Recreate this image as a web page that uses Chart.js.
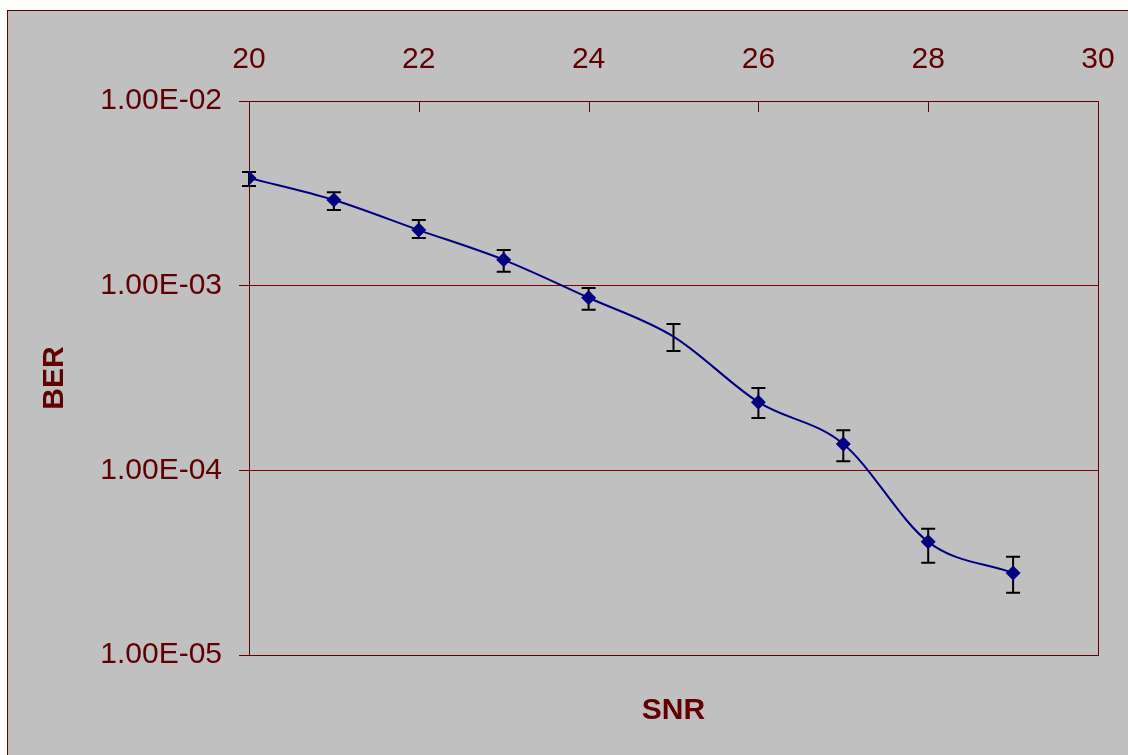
<!DOCTYPE html>
<html>
<head>
<meta charset="utf-8">
<script src="https://cdn.jsdelivr.net/npm/chart.js@4.4.1/dist/chart.umd.min.js"></script>
<style>
  html, body { margin: 0; padding: 0; background: #fff; }
  body { width: 1128px; height: 755px; position: relative; overflow: hidden; }
  #frame {
    position: absolute; left: 7px; top: 10px; width: 1200px; height: 800px;
    background: #c0c0c0; border: 1px solid #600000;
  }
  #wrap { position: absolute; left: 0; top: 0; width: 1128px; height: 755px; }
</style>
</head>
<body>
<div id="frame"></div>
<div id="wrap"><canvas id="chart"></canvas></div>
<script>
// SNR values and measured BER with error bar limits
const snr = [20, 21, 22, 23, 24, 25, 26, 27, 28, 29];
const ber = [3.83e-3, 2.91e-3, 2.00e-3, 1.38e-3, 8.6e-4, 5.3e-4, 2.34e-4, 1.39e-4, 4.1e-5, 2.78e-5];
const berHigh = [4.13e-3, 3.21e-3, 2.27e-3, 1.56e-3, 9.7e-4, 6.2e-4, 2.79e-4, 1.65e-4, 4.82e-5, 3.40e-5];
const berLow = [3.47e-3, 2.57e-3, 1.81e-3, 1.19e-3, 7.4e-4, 4.43e-4, 1.92e-4, 1.12e-4, 3.16e-5, 2.17e-5];

const xTicks = [20, 22, 24, 26, 28, 30];
const yTicks = [1e-5, 1e-4, 1e-3, 1e-2];
const yTickLabels = ['1.00E-05', '1.00E-04', '1.00E-03', '1.00E-02'];

// the point at SNR 25 has no marker in the original
const noMarkerAt = 25;

const textColor = '#600000';
const gridColor = '#800000';
const font = { family: "'Liberation Sans', Arial, sans-serif", size: 30 };
const boldFont = { family: "'Liberation Sans', Arial, sans-serif", size: 30, weight: 'bold' };

const errorBars = {
  id: 'errorBars',
  beforeDatasetsDraw(chart) {
    const { ctx, chartArea, scales: { x, y } } = chart;
    ctx.save();
    // plot frame
    ctx.strokeStyle = textColor;
    ctx.lineWidth = 1;
    ctx.strokeRect(chartArea.left + 0.5, chartArea.top + 0.5, chartArea.width, chartArea.height);
    // inner tick marks on top axis
    xTicks.forEach(v => {
      const px = Math.round(x.getPixelForValue(v)) + 0.5;
      ctx.beginPath();
      ctx.moveTo(px, chartArea.top);
      ctx.lineTo(px, chartArea.top + 11);
      ctx.stroke();
    });
    // error bars
    ctx.strokeStyle = '#000';
    ctx.lineWidth = 2;
    snr.forEach((s, i) => {
      const px = x.getPixelForValue(s);
      const top = y.getPixelForValue(berHigh[i]);
      const bot = y.getPixelForValue(berLow[i]);
      ctx.beginPath();
      ctx.moveTo(px, top);
      ctx.lineTo(px, bot);
      ctx.moveTo(px - 7, top);
      ctx.lineTo(px + 7, top);
      ctx.moveTo(px - 7, bot);
      ctx.lineTo(px + 7, bot);
      ctx.stroke();
    });
    ctx.restore();
  }
};

new Chart(document.getElementById('chart'), {
  type: 'line',
  data: {
    datasets: [{
      data: snr.map((s, i) => ({ x: s, y: ber[i] })),
      borderColor: '#000080',
      borderWidth: 2,
      backgroundColor: '#000080',
      pointStyle: 'rectRot',
      pointRadius: c => (c.raw && c.raw.x === noMarkerAt ? 0 : 7.5),
      pointBorderWidth: 0,
      cubicInterpolationMode: 'monotone',
      fill: false
    }]
  },
  options: {
    responsive: true,
    maintainAspectRatio: false,
    animation: false,
    layout: { padding: { left: 0, right: 30, top: 0, bottom: 0 } },
    plugins: { legend: { display: false }, tooltip: { enabled: false } },
    scales: {
      x: {
        type: 'linear',
        position: 'top',
        min: 20,
        max: 30,
        afterBuildTicks: s => { s.ticks = xTicks.map(v => ({ value: v })); },
        afterFit: s => { s.height = 101; s.paddingLeft = 0; s.paddingRight = 0; },
        ticks: { color: textColor, font: font, padding: 23, maxRotation: 0 },
        grid: { drawOnChartArea: false, drawTicks: false },
        border: { display: true, color: textColor, width: 1 }
      },
      x2: {
        type: 'linear',
        position: 'bottom',
        min: 20,
        max: 30,
        afterFit: s => { s.height = 100; s.paddingLeft = 0; s.paddingRight = 0; },
        ticks: { display: false },
        grid: { display: false },
        border: { display: false },
        title: { display: true, text: 'SNR', color: textColor, font: boldFont, padding: { top: 0, bottom: 26 } }
      },
      y: {
        type: 'logarithmic',
        min: 1e-5,
        max: 1e-2,
        afterBuildTicks: s => { s.ticks = yTicks.map(v => ({ value: v })); },
        afterFit: s => { s.width = 249; s.paddingTop = 0; s.paddingBottom = 0; },
        ticks: {
          color: textColor,
          font: font,
          padding: 17,
          callback: v => {
            const i = yTicks.findIndex(t => Math.abs(Math.log10(t) - Math.log10(v)) < 1e-6);
            return i >= 0 ? yTickLabels[i] : '';
          }
        },
        grid: { color: gridColor, lineWidth: 1, tickLength: 10, tickColor: textColor },
        border: { display: true, color: textColor, width: 1 },
        title: { display: true, text: 'BER', color: textColor, font: boldFont, padding: { top: 37, bottom: 0 } }
      }
    }
  },
  plugins: [errorBars]
});
</script>
</body>
</html>
